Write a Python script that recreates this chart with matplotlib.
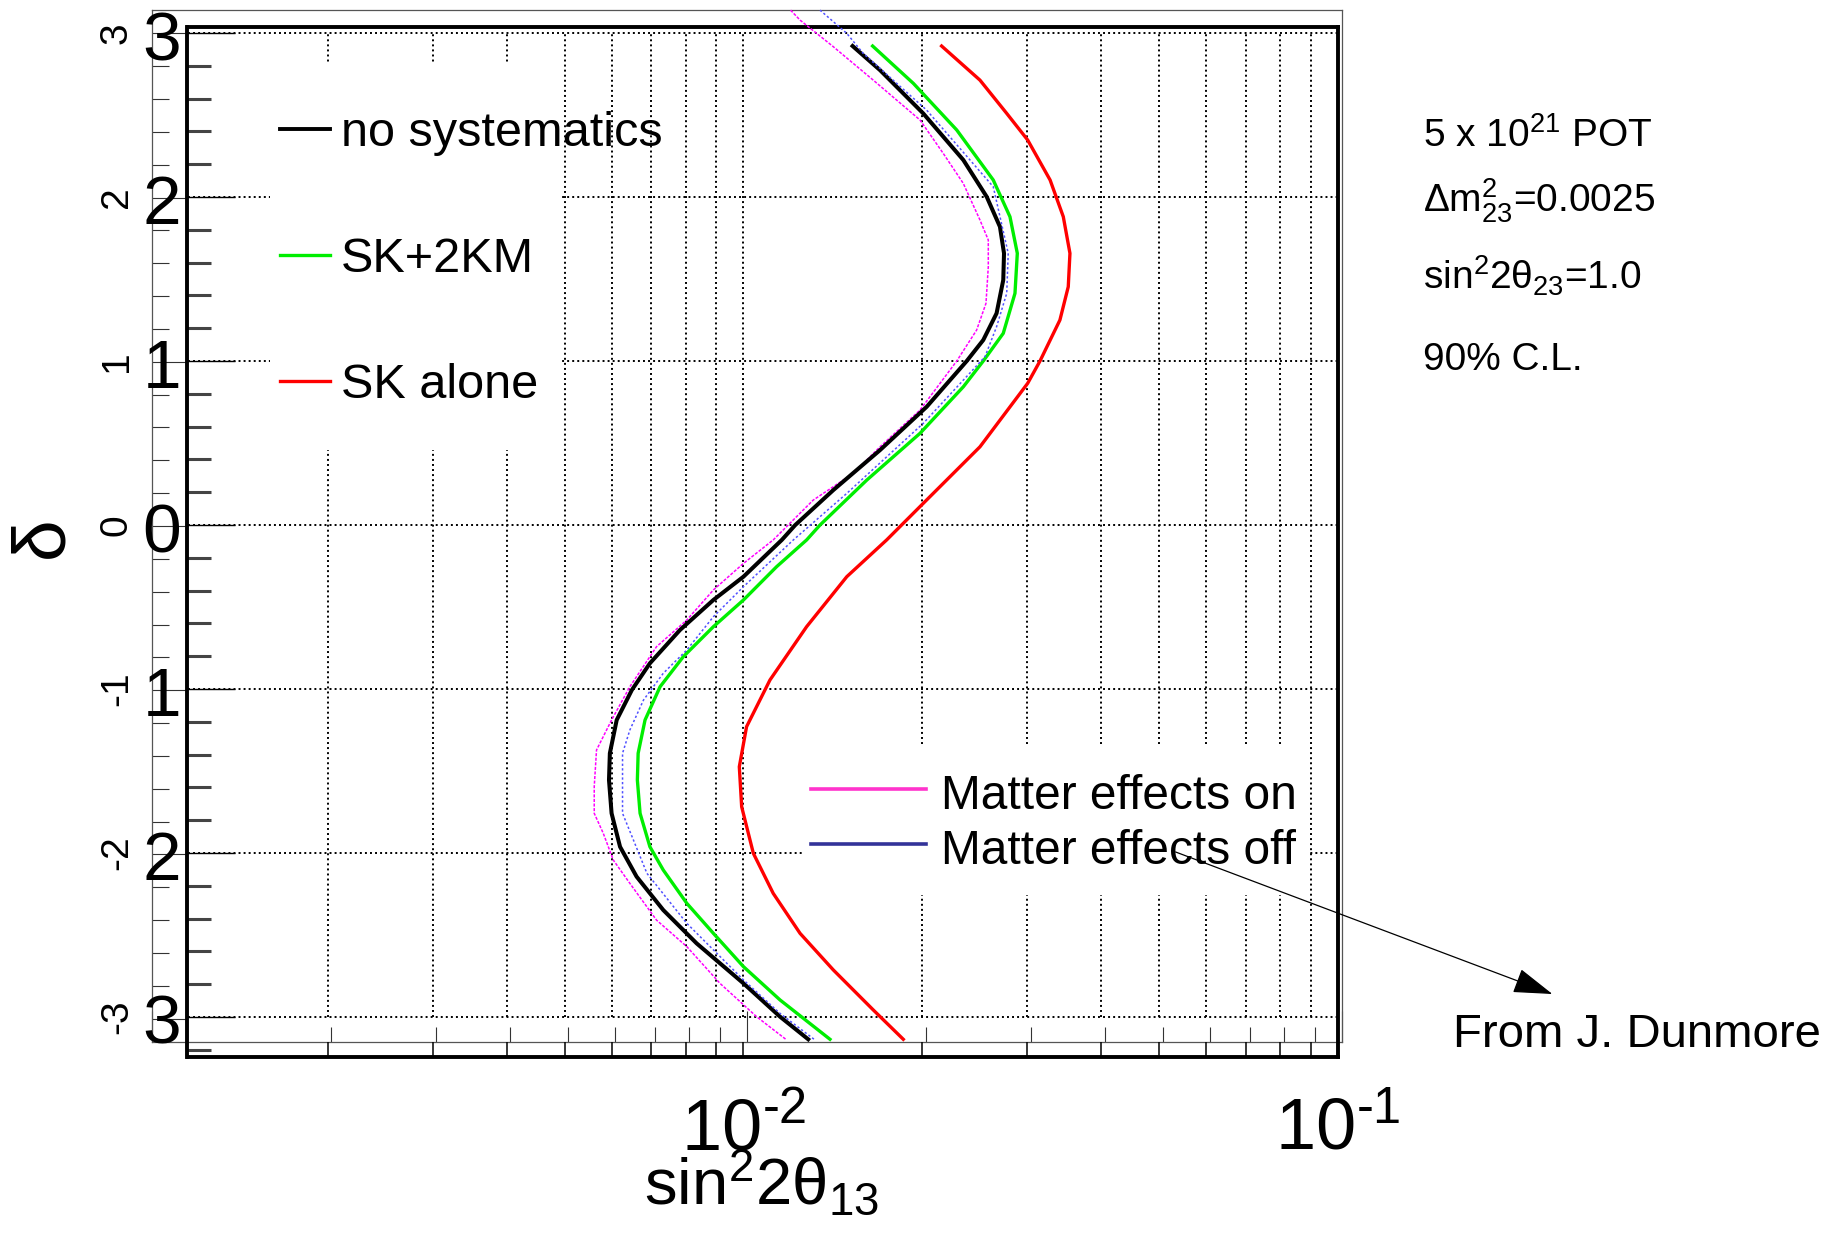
import numpy as np
import matplotlib

matplotlib.use('Agg')
import matplotlib.pyplot as plt
import matplotlib.transforms as mtransforms
from matplotlib.patches import Rectangle, FancyArrowPatch, ArrowStyle
from matplotlib.lines import Line2D
from matplotlib.ticker import LogLocator, MultipleLocator, FixedLocator, NullFormatter

plt.rcParams['font.family'] = ['Liberation Sans', 'DejaVu Sans']
plt.rcParams['mathtext.fontset'] = 'custom'
plt.rcParams['mathtext.rm'] = 'Liberation Sans'
plt.rcParams['mathtext.it'] = 'Liberation Sans:italic'
plt.rcParams['mathtext.bf'] = 'Liberation Sans:bold'

# ---- data (delta, sin^2 2theta13) ----
black_delta = [2.921, 2.774, 2.510, 2.226, 2.002, 1.819, 1.657, 1.494, 1.291, 1.128, 1.0, 0.721, 0.457, 0.213, 0.0,
               -0.091, -0.315, -0.457, -0.640, -0.843, -1.006, -1.189, -1.392, -1.555, -1.758, -1.962, -2.144,
               -2.348, -2.551, -2.795, -2.998, -3.136]
black_s2 = [0.01526, 0.01697, 0.02006, 0.02343, 0.02565, 0.02700, 0.02743, 0.02735, 0.02665, 0.02531, 0.02374,
            0.02033, 0.01697, 0.01416, 0.01222, 0.01160, 0.0100, 0.00890, 0.00782, 0.00696, 0.00649, 0.00612,
            0.00596, 0.00594, 0.00600, 0.00620, 0.00661, 0.00733, 0.00834, 0.0100, 0.01152, 0.01285]

green_delta = [2.921, 2.693, 2.409, 2.104, 1.880, 1.657, 1.413, 1.169, 1.0, 0.843, 0.559, 0.274, 0.0, -0.091,
               -0.254, -0.457, -0.620, -0.803, -0.986, -1.189, -1.392, -1.555, -1.758, -1.962, -2.104, -2.307,
               -2.490, -2.693, -2.896, -3.136]
green_s2 = [0.01649, 0.01931, 0.02284, 0.02631, 0.02807, 0.02888, 0.02862, 0.02735, 0.02531, 0.02343, 0.01981,
            0.01612, 0.01345, 0.01277, 0.01137, 0.0100, 0.00890, 0.00792, 0.00724, 0.00683, 0.00665, 0.00663,
            0.00670, 0.00696, 0.00733, 0.00803, 0.00890, 0.0100, 0.01152, 0.01398]

red_delta = [2.921, 2.713, 2.510, 2.348, 2.104, 1.880, 1.657, 1.453, 1.25, 1.0, 0.864, 0.477, 0.132, -0.091,
             -0.315, -0.620, -0.945, -1.230, -1.474, -1.718, -2.002, -2.246, -2.490, -2.713, -2.957, -3.136]
red_s2 = [0.02154, 0.02499, 0.02772, 0.03006, 0.03279, 0.03451, 0.03541, 0.03518, 0.03406, 0.03153, 0.03006,
          0.02499, 0.02006, 0.01741, 0.01492, 0.01277, 0.01108, 0.01012, 0.00984, 0.00993, 0.01039, 0.01122,
          0.01245, 0.01416, 0.01653, 0.01857]

magenta_delta = [3.140, 3.079, 2.917, 2.713, 2.470, 2.266, 2.083, 1.860, 1.738, 1.575, 1.352, 1.189, 1.0, 0.701,
                 0.477, 0.315, 0.152, -0.091, -0.234, -0.396, -0.579, -0.742, -0.986, -1.189, -1.372, -1.596,
                 -1.758, -1.880, -2.043, -2.185, -2.409, -2.571, -2.795, -2.998, -3.140]
magenta_s2 = [0.01200, 0.01245, 0.01416, 0.01653, 0.01981, 0.02168, 0.02343, 0.02499, 0.02581, 0.02581, 0.02558,
              0.02467, 0.02284, 0.01981, 0.01697, 0.01530, 0.01310, 0.01122, 0.0100, 0.00890, 0.00803, 0.00714,
              0.00644, 0.00600, 0.00566, 0.00561, 0.00561, 0.00581, 0.00604, 0.00644, 0.00714, 0.00803, 0.00913,
              0.01052, 0.01182]

blue_delta = [3.140, 2.998, 2.876, 2.530, 2.063, 1.657, 1.413, 1.209, 1.026, 0.620, 0.193, -0.091, -0.376, -0.559,
              -0.762, -0.904, -1.067, -1.250, -1.392, -1.758, -1.921, -2.124, -2.429, -2.774, -2.978, -3.140]
blue_s2 = [0.01345, 0.01492, 0.01590, 0.02033, 0.02631, 0.02788, 0.02772, 0.02665, 0.02548, 0.02006, 0.01492,
           0.01213, 0.0100, 0.0089, 0.00803, 0.00733, 0.00679, 0.00644, 0.00626, 0.00626, 0.00653, 0.00688,
           0.00803, 0.0100, 0.01152, 0.01319]

delta_ticks = [-3, -2, -1, 0, 1, 2, 3]
delta_big_labels = ['3', '2', '1', '0', '1', '2', '3']
delta_small_labels = ['-3', '-2', '-1', '0', '1', '2', '3']
x_major = [0.01, 0.1]
x_major_labels = ['$\\mathregular{10^{\u20102}}$', '$\\mathregular{10^{\u20101}}$']
grid_x = [2e-3, 3e-3, 4e-3, 5e-3, 6e-3, 7e-3, 8e-3, 9e-3, 1e-2,
          2e-2, 3e-2, 4e-2, 5e-2, 6e-2, 7e-2, 8e-2, 9e-2]
legend1 = [('no systematics', 'black'), ('SK+2KM', '#00ee00'), ('SK alone', '#ff0000')]
legend2 = [('Matter effects on', '#ff33cc'), ('Matter effects off', '#333399')]
info_lines = [r'5 x 10$^{21}$ POT', r'Δm$^{2}_{23}$=0.0025', r'sin$^{2}$2θ$_{23}$=1.0', '90% C.L.']

W, H = 1849, 1234
fig = plt.figure(figsize=(W / 100, H / 100), dpi=100)


def fx(px):
    return px / W


def fy(py):
    return 1 - py / H


def pt(px):
    return px * 0.72


# thin frame of the second, overlaid plot
ax2 = fig.add_axes([fx(152), fy(1042), fx(1342) - fx(152), fy(10) - fy(1042)])
ax2.set_xscale('log')
ax2.set_xlim(1e-3, 0.1)
ax2.set_ylim(-np.pi, np.pi)
for s in ax2.spines.values():
    s.set_linewidth(0.9)
    s.set_color('#555555')
ax2.xaxis.set_major_locator(FixedLocator([1e-3, 1e-2, 1e-1]))
ax2.xaxis.set_minor_locator(LogLocator(base=10, subs=np.arange(2, 10)))
ax2.yaxis.set_major_locator(MultipleLocator(1))
ax2.yaxis.set_minor_locator(MultipleLocator(0.2))
ax2.tick_params(axis='x', which='major', direction='in', length=pt(31), width=0.8, color='#333333',
                labelbottom=False)
ax2.tick_params(axis='x', which='minor', direction='in', length=pt(15), width=0.8, color='#333333')
ax2.tick_params(axis='y', which='major', direction='in', length=pt(35), width=0.8, color='#333333',
                labelleft=False)
ax2.tick_params(axis='y', which='minor', direction='in', length=pt(17), width=0.8, color='#333333')
ax2.xaxis.set_minor_formatter(NullFormatter())

# main frame
ax = fig.add_axes([fx(187.5), fy(1057), fx(1338) - fx(187.5), fy(27) - fy(1057)])
ax.set_facecolor('none')
ax.set_xscale('log')
ax.set_xlim(1.161e-3, 0.1)
ax.set_ylim(-3.244, 3.037)
for s in ax.spines.values():
    s.set_linewidth(2.8)
ax.xaxis.set_major_locator(FixedLocator(x_major))
ax.xaxis.set_minor_locator(LogLocator(base=10, subs=np.arange(2, 10)))
ax.xaxis.set_minor_formatter(NullFormatter())
ax.set_xticklabels(x_major_labels)
ax.tick_params(axis='x', which='both', direction='in', length=pt(15), width=1.1, pad=pt(40), labelsize=52)
ax.yaxis.set_major_locator(FixedLocator(delta_ticks))
ax.yaxis.set_minor_locator(MultipleLocator(0.2))
ax.tick_params(axis='y', which='major', direction='in', length=pt(48), width=1.0, labelleft=False)
ax.tick_params(axis='y', which='minor', direction='in', length=pt(24), width=2.2, color='#444444')

# dotted grid (only between delta = -3 and 3)
dots = (0, (1, 1.6))
ax.vlines(grid_x, -3, 3, colors='black', linewidth=1.4, linestyles=[dots], zorder=1)
ax.hlines(delta_ticks, 1.161e-3, 0.1, colors='black', linewidth=1.4, linestyles=[dots], zorder=1)

# contours
ax.plot(magenta_s2, magenta_delta, color='#ff00ff', linewidth=1.1, linestyle=(0, (2, 1)), clip_on=False, zorder=3)
ax.plot(red_s2, red_delta, color='#ff0000', linewidth=2.4, zorder=3)
ax.plot(green_s2, green_delta, color='#00ee00', linewidth=2.4, zorder=3)
ax.plot(black_s2, black_delta, color='black', linewidth=2.9, zorder=4)
ax.plot(blue_s2, blue_delta, color='#5050ff', linewidth=1.1, linestyle=(0, (1.5, 1.5)), clip_on=False, zorder=5)

# y tick labels: big ones plus rotated ones from the overlaid plot
big_tr = mtransforms.offset_copy(mtransforms.blended_transform_factory(fig.transFigure, ax.transData),
                                 fig=fig, y=-9, units='dots')
small_tr = mtransforms.blended_transform_factory(fig.transFigure, ax.transData)
for v, big, small in zip(delta_ticks, delta_big_labels, delta_small_labels):
    ax.text(fx(181), v, big, transform=big_tr, ha='right', va='center', fontsize=50, clip_on=False)
    ax.text(fx(117), v, small, transform=small_tr, ha='center', va='center', fontsize=28, rotation=90,
            clip_on=False)

# legend boxes (white, hide the grid)
fig.patches.append(Rectangle((fx(270), fy(450)), fx(562) - fx(270), fy(64) - fy(450), transform=fig.transFigure,
                             facecolor='white', edgecolor='none', zorder=1))
fig.patches.append(Rectangle((fx(803), fy(895)), fx(1310) - fx(803), fy(745) - fy(895), transform=fig.transFigure,
                             facecolor='white', edgecolor='none', zorder=1))

for i, (lab, col) in enumerate(legend1):
    yl = 129 + i * 126
    fig.lines.append(Line2D([fx(280), fx(330)], [fy(yl), fy(yl)], transform=fig.transFigure, color=col,
                            linewidth=2.8 if col == 'black' else 2.4, zorder=2))
    fig.text(fx(341), fy(yl + 17), lab, fontsize=35, ha='left', va='baseline', zorder=2)

for i, (lab, col) in enumerate(legend2):
    yl = 789 + i * 55
    fig.lines.append(Line2D([fx(811), fx(926)], [fy(yl), fy(yl)], transform=fig.transFigure, color=col,
                            linewidth=2.6, zorder=2))
    fig.text(fx(941), fy(yl + 20), lab, fontsize=34.5, ha='left', va='baseline', zorder=2)

# info text on the right
for yb, s in zip([147, 212, 290, 370], info_lines):
    fig.text(fx(1423), fy(yb), s, fontsize=28, ha='left', va='baseline')

fig.text(fx(1453), fy(1047), 'From J. Dunmore', fontsize=34, ha='left', va='baseline')
fig.patches.append(FancyArrowPatch((fx(1173), fy(851)), (fx(1555), fy(995)), transform=fig.transFigure,
                                   arrowstyle=ArrowStyle('-|>', head_length=25, head_width=8),
                                   color='black', linewidth=0.9, mutation_scale=1, zorder=3))

# axis titles
fig.text(fx(762), fy(1205), r'sin$^{2}$2θ$_{13}$', fontsize=47, ha='center', va='baseline')
fig.text(fx(43), fy(537), 'δ', fontsize=54, rotation=90, ha='center', va='center')

fig.savefig('out.png', dpi=100)
